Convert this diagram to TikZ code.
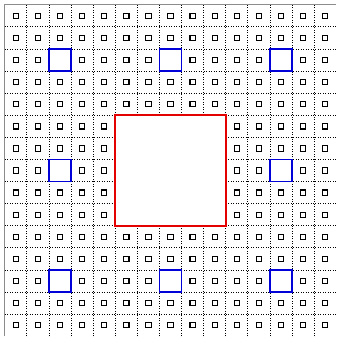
\documentclass[tikz,border=0pt]{standalone}
\usetikzlibrary{positioning}

\begin{document}
\begin{tikzpicture}[
                x=5mm, y=5mm,
                gridline/.style={
                    densely dotted,
                    line width=0.6pt
                },
                edgeline/.style={
                    black!45,
                    line width=0.5pt
                },
                dotbox/.style={
                    draw,
                    line width=0.7pt,
                    minimum size=1.2mm,
                    inner sep=0pt
                },
                hole/.style={
                    draw=blue!85!black,
                    fill=white,
                    line width=0.8pt
                },
                bighole/.style={
                    draw=red!90!black,
                    line width=1.1pt
                }
            ]

                \useasboundingbox (-0.217,-0.033) rectangle (15.077,15.217);

                % dotted grid
                \foreach \k in {1,...,14} {
                    \draw[gridline] (\k,0) -- (\k,15);
                    \draw[gridline] (0,\k) -- (15,\k);
                }
                \draw[edgeline] (0,0) -- (0,15) -- (15,15);

                % small squares in every cell
                \foreach \i in {0,...,14} {
                    \foreach \j in {0,...,14} {
                        \node[dotbox] (c-\i-\j) at (\i+0.5,\j+0.5) {};
                    }
                }

                % small holes
                \foreach \i/\j in {2/2, 7/2, 12/2, 2/7, 12/7, 2/12, 7/12, 12/12} {
                    \draw[hole] (\i,\j) rectangle ++(1,1);
                }

                % big hole
                \fill[white] (5,5) rectangle (10,10);
                \draw[bighole] (5,5) rectangle (10,10);

            \end{tikzpicture}
\end{document}
